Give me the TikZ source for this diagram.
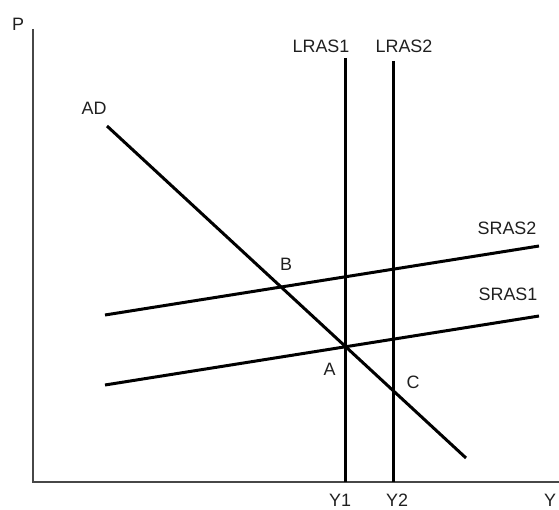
\documentclass[tikz,border=0pt]{standalone}
\usepackage{fontspec}
\setmainfont{Liberation Sans}
\begin{document}
\begin{tikzpicture}[x=1bp,y=-1bp,
  lbl/.style={font=\fontsize{18}{21}\selectfont, inner sep=0pt, text depth=0pt, text=black!88},
  axis/.style={line width=1.6bp, draw=black!72},
  curve/.style={line width=3bp, draw=black}]
\useasboundingbox (0,0) rectangle (559,510);
% axes
\coordinate (O) at (33,482);
\coordinate (ytop) at (33,29);
\coordinate (xend) at (560,482);
\draw[axis] (ytop) -- (O) -- (xend);
% LRAS
\coordinate (l1t) at (345.5,58);
\coordinate (l1b) at (345.5,482);
\coordinate (l2t) at (393.5,61);
\coordinate (l2b) at (393.5,482);
\draw[curve] (l1t) -- (l1b);
\draw[curve] (l2t) -- (l2b);
% AD
\coordinate (adt) at (107,126);
\coordinate (adb) at (466,458);
\draw[curve] (adt) -- (adb);
% SRAS
\coordinate (s1l) at (105,385);
\coordinate (s1r) at (539,316);
\coordinate (s2l) at (105,315);
\coordinate (s2r) at (539,246);
\draw[curve] (s1l) -- (s1r);
\draw[curve] (s2l) -- (s2r);
% labels
\node[lbl] (P) at (18,24) {P};
\node[lbl] (Y) at (550,500) {Y};
\node[lbl] (Y1) at (340,500) {Y1};
\node[lbl] (Y2) at (397,500) {Y2};
\node[lbl] (LRAS1) at (321,46) {LRAS1};
\node[lbl] (LRAS2) at (404,46) {LRAS2};
\node[lbl] (AD) at (94,108) {AD};
\node[lbl] (SRAS2) at (507,228) {SRAS2};
\node[lbl] (SRAS1) at (508,294) {SRAS1};
\node[lbl] (B) at (286,264) {B};
\node[lbl] (A) at (329.5,369) {A};
\node[lbl] (C) at (413,382) {C};
\end{tikzpicture}
\end{document}
